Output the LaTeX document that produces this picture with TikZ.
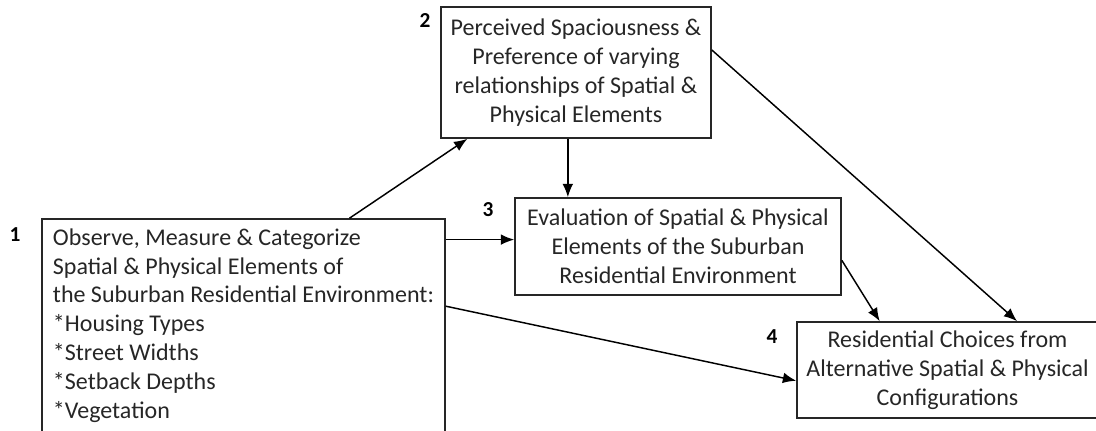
\documentclass[tikz,border=0pt]{standalone}
\usepackage{fontspec}
\setmainfont{Carlito}
\usetikzlibrary{arrows.meta,calc}

\begin{document}
\begin{tikzpicture}[x=0.75pt,y=-0.75pt,
  box/.style={draw=black!85,line width=1.2pt,inner sep=0pt,
    font=\fontsize{18}{21.6}\selectfont,text=black!85},
  num/.style={font=\fontsize{16}{18}\selectfont\bfseries},
  link/.style={->,>={Latex[length=10pt,width=8pt]},line width=1.1pt}]

\useasboundingbox (0,0) rectangle (1096,430);
\clip (0,0) rectangle (1096,430);

\node[box,align=left][minimum width=403*0.75pt,minimum height=213*0.75pt] (observe) at (243.5,325.5) {Observe, Measure \& Categorize\\Spatial \& Physical Elements of\\the Suburban Residential Environment:\\*Housing Types\\*Street Widths\\*Setback Depths\\*Vegetation};
\path (15,235) node[num] (n1) {1};
%%%
\node[box,align=center][minimum width=270*0.75pt,minimum height=131*0.75pt] (perceive) at (576,72.5) {Perceived Spaciousness \&\\Preference of varying\\relationships of Spatial \&\\Physical Elements};
\path (425,20) node[num] (n2) {2};
%%%
\node[box,align=center][minimum width=326*0.75pt,minimum height=97*0.75pt] (evaluate) at (678,246.5) {Evaluation of Spatial \& Physical\\Elements of the Suburban\\Residential Environment};
\path (488,210) node[num] (n3) {3};
%%%
\node[box,align=center][minimum width=301*0.75pt,minimum height=96*0.75pt] (choice) at (947.5,370) {Residential Choices from\\Alternative Spatial \& Physical\\Configurations};
\path (772,337) node[num] (n4) {4};
%%%
\draw[link] ($(observe.north west)!0.762!(observe.north east)$) -- ($(perceive.south west)!0.1!(perceive.south east)$);
\draw[link] ($(perceive.south west)!0.47!(perceive.south east)$) coordinate (drop) -- (drop |- evaluate.north);
\draw[link] ($(evaluate.north west)!0.43!(evaluate.south west)$) coordinate (feed) (observe.east |- feed) -- (feed);
\draw[link] ($(observe.north east)!0.41!(observe.south east)$) -- ($(choice.north west)!0.61!(choice.south west)$);
\draw[link] ($(evaluate.north east)!0.64!(evaluate.south east)$) -- ($(choice.north west)!0.276!(choice.north east)$);
\draw[link] ($(perceive.north east)!0.33!(perceive.south east)$) -- ($(choice.north west)!0.73!(choice.north east)$);
\end{tikzpicture}
\end{document}
